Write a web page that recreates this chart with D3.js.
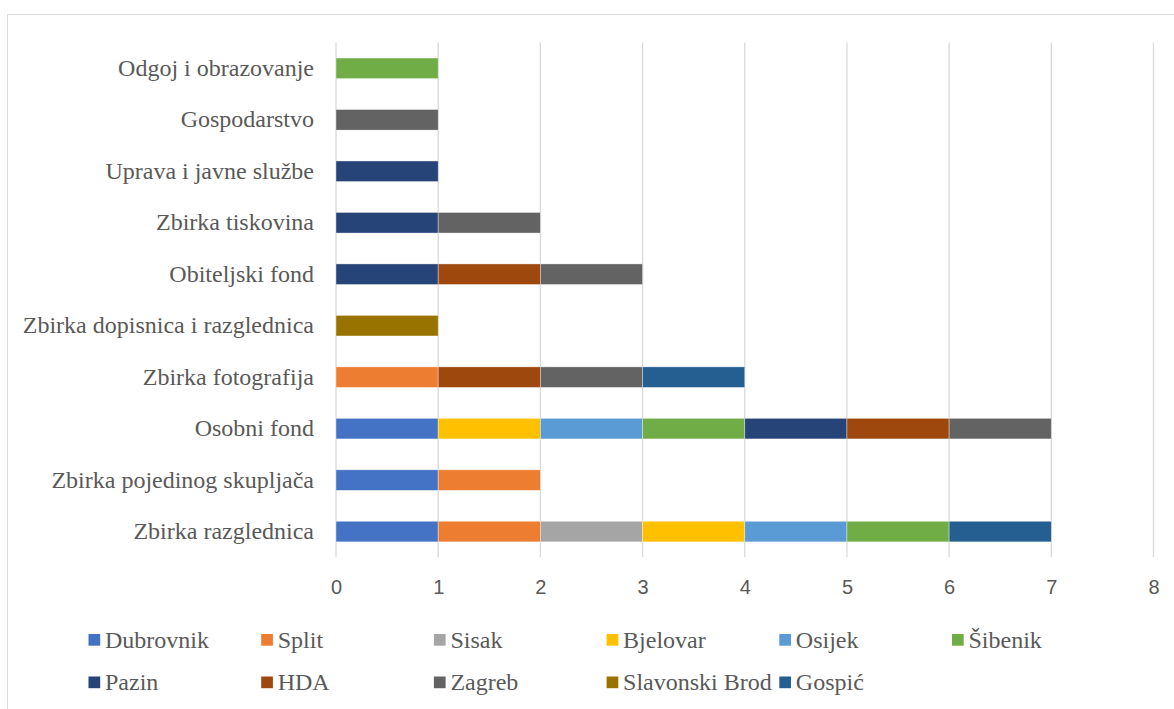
<!DOCTYPE html>
<html>
<head>
<meta charset="utf-8">
<script src="https://cdn.jsdelivr.net/npm/d3@7"></script>
<style>
  body { margin: 0; background: #fff; }
</style>
</head>
<body>
<div id="chart"></div>
<script>
// categories, top to bottom as drawn
var categories = [
  "Odgoj i obrazovanje",
  "Gospodarstvo",
  "Uprava i javne službe",
  "Zbirka tiskovina",
  "Obiteljski fond",
  "Zbirka dopisnica i razglednica",
  "Zbirka fotografija",
  "Osobni fond",
  "Zbirka pojedinog skupljača",
  "Zbirka razglednica"
];

var seriesNames = ["Dubrovnik", "Split", "Sisak", "Bjelovar", "Osijek", "Šibenik",
  "Pazin", "HDA", "Zagreb", "Slavonski Brod", "Gospić"];

var seriesColors = ["#4472C4", "#ED7D31", "#A5A5A5", "#FFC000", "#5B9BD5", "#70AD47",
  "#264478", "#9E480E", "#636363", "#997300", "#255E91"];

// values per series, in the same order as categories
var dubrovnik     = [0, 0, 0, 0, 0, 0, 0, 1, 1, 1];
var split         = [0, 0, 0, 0, 0, 0, 1, 0, 1, 1];
var sisak         = [0, 0, 0, 0, 0, 0, 0, 0, 0, 1];
var bjelovar      = [0, 0, 0, 0, 0, 0, 0, 1, 0, 1];
var osijek        = [0, 0, 0, 0, 0, 0, 0, 1, 0, 1];
var sibenik       = [1, 0, 0, 0, 0, 0, 0, 1, 0, 1];
var pazin         = [0, 0, 1, 1, 1, 0, 0, 1, 0, 0];
var hda           = [0, 0, 0, 0, 1, 0, 1, 1, 0, 0];
var zagreb        = [0, 1, 0, 1, 1, 0, 1, 1, 0, 0];
var slavonskiBrod = [0, 0, 0, 0, 0, 1, 0, 0, 0, 0];
var gospic        = [0, 0, 0, 0, 0, 0, 1, 0, 0, 1];

var seriesValues = [dubrovnik, split, sisak, bjelovar, osijek, sibenik,
  pazin, hda, zagreb, slavonskiBrod, gospic];

var xTicks = [0, 1, 2, 3, 4, 5, 6, 7, 8];

var svgWidth = 1174;
var svgHeight = 709;

var serifFont = "Liberation Serif";
var sansFont = "Liberation Sans";

var margin = { top: 42.6, left: 336, right: 20.5, bottom: 151.7 };
var width = svgWidth - margin.left - margin.right;
var height = svgHeight - margin.top - margin.bottom;

var svg = d3.select("#chart")
  .append("svg")
  .attr("width", svgWidth)
  .attr("height", svgHeight);

// chart frame
svg.append("rect")
  .attr("x", 7.5)
  .attr("y", 14.5)
  .attr("width", 1180)
  .attr("height", 720)
  .attr("fill", "none")
  .attr("stroke", "#d9d9d9")
  .attr("stroke-width", 1);

var chartGroup = svg.append("g")
  .attr("transform", `translate(${margin.left}, ${margin.top})`);

// build table for stacking
var table = categories.map(function (c, i) {
  var row = { category: c };
  seriesNames.forEach(function (s, j) { row[s] = seriesValues[j][i]; });
  return row;
});

var stacked = d3.stack().keys(seriesNames)(table);

var xScale = d3.scaleLinear().domain([0, 8]).range([0, width]);
var yScale = d3.scaleBand().domain(categories).range([0, height]).paddingInner(0.6).paddingOuter(0.3);

// gridlines
chartGroup.append("g")
  .selectAll("line")
  .data(xTicks)
  .enter()
  .append("line")
  .attr("x1", d => xScale(d))
  .attr("x2", d => xScale(d))
  .attr("y1", 0)
  .attr("y2", height)
  .attr("stroke", "#d9d9d9")
  .attr("stroke-width", 1.3);

// bars
var layers = chartGroup.selectAll("g.layer")
  .data(stacked)
  .enter()
  .append("g")
  .attr("class", "layer")
  .attr("fill", (d, i) => seriesColors[i]);

layers.selectAll("rect")
  .data(d => d.filter(p => p[1] - p[0] > 0))
  .enter()
  .append("rect")
  .attr("x", d => xScale(d[0]))
  .attr("y", d => yScale(d.data.category))
  .attr("width", d => xScale(d[1]) - xScale(d[0]))
  .attr("height", yScale.bandwidth())
  .attr("stroke", "#ffffff")
  .attr("stroke-opacity", 0.5)
  .attr("stroke-width", 0.75);

// x axis tick labels
var xAxis = d3.axisBottom(xScale).tickValues(xTicks).tickSize(0).tickPadding(0);
var xAxisG = chartGroup.append("g")
  .attr("transform", `translate(0, ${height})`)
  .call(xAxis)
  .attr("font-family", sansFont)
  .attr("font-size", 20);
xAxisG.select(".domain").remove();
xAxisG.selectAll("text")
  .attr("y", 0)
  .attr("dy", 36.5)
  .attr("font-family", sansFont)
  .attr("font-size", 20)
  .attr("fill", "#595959");

// y axis labels
var yAxis = d3.axisLeft(yScale).tickSize(0).tickPadding(22);
var yAxisG = chartGroup.append("g")
  .call(yAxis)
  .attr("font-family", serifFont)
  .attr("font-size", 24);
yAxisG.select(".domain").remove();
yAxisG.selectAll("text")
  .attr("font-family", serifFont)
  .attr("font-size", 24)
  .attr("fill", "#595959");

// legend
var legend = svg.append("g")
  .attr("class", "legend")
  .attr("font-family", serifFont)
  .attr("font-size", 24);
var legendItems = legend.selectAll("g")
  .data(seriesNames)
  .enter()
  .append("g")
  .attr("transform", (d, i) => `translate(${88.5 + (i % 6) * 172.7}, ${640 + Math.floor(i / 6) * 42.5})`);

legendItems.append("rect")
  .attr("x", 0)
  .attr("y", -6)
  .attr("width", 11.7)
  .attr("height", 11.7)
  .attr("fill", (d, i) => seriesColors[i]);

legendItems.append("text")
  .attr("x", 16.5)
  .attr("y", 0)
  .attr("dy", "0.33em")
  .attr("font-family", serifFont)
  .attr("font-size", 24)
  .attr("fill", "#595959")
  .text(d => d);
</script>
</body>
</html>
